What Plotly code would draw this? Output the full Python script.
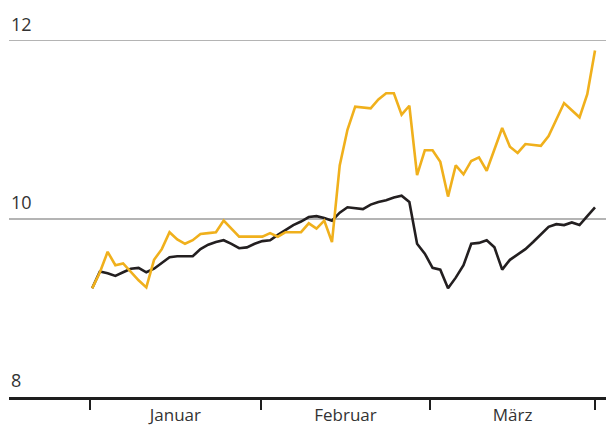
import plotly.graph_objects as go

# trading-day index (Jan - Mar)
day_index = list(range(66))

yellow_series = [9.22, 9.40, 9.63, 9.48, 9.50, 9.40, 9.31, 9.23, 9.54, 9.66,
                 9.85, 9.77, 9.72, 9.76, 9.83, 9.84, 9.85, 9.98, 9.89, 9.80,
                 9.80, 9.80, 9.80, 9.84, 9.80, 9.85, 9.85, 9.85, 9.95, 9.89,
                 9.98, 9.74, 10.60, 11.00, 11.26, 11.25, 11.24, 11.34, 11.41, 11.41,
                 11.17, 11.27, 10.49, 10.77, 10.77, 10.64, 10.25, 10.60, 10.50, 10.65,
                 10.69, 10.54, 10.77, 11.02, 10.81, 10.74, 10.84, 10.83, 10.82, 10.93,
                 11.11, 11.30, 11.22, 11.14, 11.40, 11.89]

black_series = [9.22, 9.41, 9.39, 9.36, 9.40, 9.44, 9.45, 9.40, 9.44, 9.51,
                9.57, 9.58, 9.58, 9.58, 9.66, 9.71, 9.74, 9.76, 9.72, 9.67,
                9.68, 9.72, 9.75, 9.76, 9.82, 9.88, 9.93, 9.97, 10.02, 10.03,
                10.01, 9.98, 10.07, 10.13, 10.12, 10.11, 10.16, 10.19, 10.21, 10.24,
                10.26, 10.19, 9.72, 9.61, 9.45, 9.43, 9.22, 9.34, 9.48, 9.72,
                9.73, 9.76, 9.68, 9.43, 9.54, 9.60, 9.66, 9.74, 9.82, 9.91,
                9.94, 9.93, 9.96, 9.93, 10.03, 10.13]

month_labels = ["Januar", "Februar", "März"]
month_bounds = [-0.3, 21.8, 43.7, 65.0]
y_ticks = [8, 10, 12]
grid_values = [10, 12]

label_pos = [(month_bounds[i] + month_bounds[i + 1]) / 2 for i in range(3)]

fig = go.Figure()
fig.add_trace(go.Scatter(x=day_index, y=black_series, mode="lines",
                         line=dict(color="#231f20", width=2.6), hoverinfo="skip"))
fig.add_trace(go.Scatter(x=day_index, y=yellow_series, mode="lines",
                         line=dict(color="#f0b01c", width=2.6), hoverinfo="skip"))

for v in y_ticks:
    fig.add_annotation(
        x=0, xref="paper", y=v, yref="y",
        text=str(v), showarrow=False,
        xanchor="left", yanchor="bottom", xshift=0, yshift=3,
        font=dict(family="Open Sans", size=18, color="#333333"),
    )

fig.update_layout(
    width=606, height=427,
    margin=dict(l=9, r=0, t=14, b=30),
    paper_bgcolor="white", plot_bgcolor="white",
    showlegend=False,
    font=dict(family="Open Sans", color="#333333"),
    xaxis=dict(
        range=[-10.75, 66.42],
        automargin=False,
        showgrid=False, zeroline=False,
        showline=True, linecolor="#1e1e1e", linewidth=2.5,
        tickvals=label_pos, ticktext=month_labels,
        ticks="outside", ticklen=1, tickcolor="rgba(0,0,0,0)",
        tickfont=dict(size=17, color="#333333"),
        minor=dict(tickvals=month_bounds, ticks="outside", ticklen=10,
                   tickwidth=2, tickcolor="#1e1e1e", showgrid=False),
        fixedrange=True,
    ),
    yaxis=dict(
        range=[8, 12.3],
        automargin=False,
        tickvals=grid_values, showticklabels=False,
        showgrid=True, gridcolor="#b4b4b4", gridwidth=1.5,
        zeroline=False, showline=False, ticks="",
        fixedrange=True,
    ),
)

fig.write_html(
    "out.html",
    config={"displayModeBar": False, "staticPlot": True},
    post_script="document.body.style.margin='0px';document.body.style.overflow='hidden';",
)
